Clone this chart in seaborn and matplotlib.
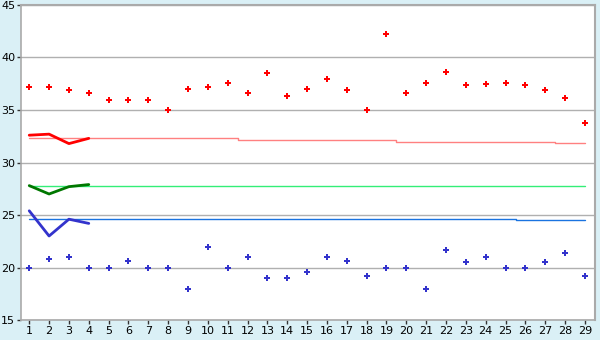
import matplotlib
matplotlib.use("Agg")
import matplotlib.pyplot as plt
import seaborn as sns
import pandas as pd
import numpy as np

days = list(range(1, 30))
high_pts = [37.2, 37.2, 36.9, 36.6, 36.0, 36.0, 36.0, 35.0, 37.0, 37.2,
            37.6, 36.6, 38.5, 36.3, 37.0, 38.0, 36.9, 35.0, 42.2, 36.6,
            37.6, 38.6, 37.4, 37.5, 37.6, 37.4, 36.9, 36.1, 33.8]
low_pts = [20.0, 20.8, 21.0, 20.0, 20.0, 20.6, 20.0, 20.0, 18.0, 22.0,
           20.0, 21.0, 19.0, 19.0, 19.6, 21.0, 20.6, 19.2, 20.0, 20.0,
           18.0, 21.7, 20.5, 21.0, 20.0, 20.0, 20.5, 21.4, 19.2]

short_days = [1, 2, 3, 4]
red_short = [32.6, 32.7, 31.8, 32.3]
green_short = [27.8, 27.0, 27.7, 27.9]
blue_short = [25.4, 23.0, 24.6, 24.2]

red_ref = [32.3] * 11 + [32.1] * 8 + [32.0] * 8 + [31.9] * 2
green_ref = [27.8] * 29
blue_ref = [24.6] * 25 + [24.5] * 4

sns.set_theme(style="white")
plt.rcParams['font.family'] = ['DejaVu Sans']

fig = plt.figure(figsize=(6, 3.4), dpi=100, facecolor="#daf0f6")
ax = fig.add_axes([0.0345, 0.0588, 0.957, 0.9265])
ax.set_facecolor("white")

ref = pd.DataFrame({"day": days, "red": red_ref, "green": green_ref, "blue": blue_ref})
sns.lineplot(data=ref, x="day", y="red", ax=ax, color="#ff8080", lw=1.0, drawstyle="steps-mid")
sns.lineplot(data=ref, x="day", y="green", ax=ax, color="#33ee77", lw=1.0, drawstyle="steps-mid")
sns.lineplot(data=ref, x="day", y="blue", ax=ax, color="#1a73e0", lw=1.0, drawstyle="steps-mid")

sh = pd.DataFrame({"day": short_days, "red": red_short, "green": green_short, "blue": blue_short})
sns.lineplot(data=sh, x="day", y="red", ax=ax, color="#ff0000", lw=2)
sns.lineplot(data=sh, x="day", y="green", ax=ax, color="#007700", lw=2)
sns.lineplot(data=sh, x="day", y="blue", ax=ax, color="#3333cc", lw=2)

pts = pd.DataFrame({"day": days, "high": high_pts, "low": low_pts})
sns.scatterplot(data=pts, x="day", y="high", ax=ax, color="#ff0000", marker="P", s=20, linewidth=0)
sns.scatterplot(data=pts, x="day", y="low", ax=ax, color="#3333cc", marker="P", s=20, linewidth=0)

ax.set_xlim(0.57, 29.5)
ax.set_ylim(15, 45)
ax.set_xticks(days)
ax.set_yticks([15, 20, 25, 30, 35, 40, 45])
ax.yaxis.grid(True, color="#b0b0b0", lw=1)
ax.set_axisbelow(True)
ax.set_xlabel("")
ax.set_ylabel("")
ax.tick_params(axis="both", which="both", direction="out", length=3, width=1,
               color="#333333", labelsize=8, labelcolor="black", pad=1,
               bottom=True, left=True)
for s in ["top", "right"]:
    ax.spines[s].set_color("#aaaaaa")
    ax.spines[s].set_linewidth(1.5)
for s in ["left", "bottom"]:
    ax.spines[s].set_color("#aaaaaa")
    ax.spines[s].set_linewidth(1.2)

fig.savefig("out.png", dpi=100, facecolor=fig.get_facecolor())
